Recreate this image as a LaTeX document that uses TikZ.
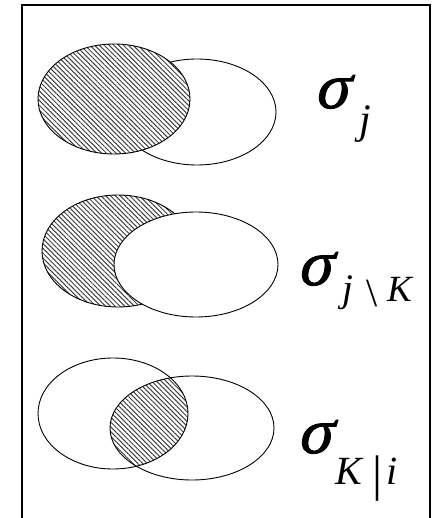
\documentclass[tikz,border=0pt]{standalone}
\usepackage{fontspec}
\setmainfont{Liberation Serif}
\newfontfamily\sigfont[FakeSlant=0.22,FakeBold=1.6]{Liberation Serif}
\usetikzlibrary{patterns.meta}
\begin{document}
\begin{tikzpicture}[x=1pt,y=-1pt,
  setline/.style={draw=black,line width=0.9pt},
  hatch/.style={pattern={Lines[angle=-45,distance=3.4pt,line width=1pt]},pattern color=black!75},
  lbl/.style={inner sep=0pt,anchor=base west},
  sig/.style={lbl,font=\fontsize{64}{64}\sigfont},
]
\useasboundingbox (0,0) rectangle (432,518);
\draw[line width=1.6pt] (22,5) rectangle (430,530);
% top
\fill[white] (197,112) ellipse [x radius=79,y radius=53];
\draw[setline] (197,112) ellipse [x radius=79,y radius=53];
\fill[white] (114,99) ellipse [x radius=76,y radius=55];
\fill[hatch] (114,99) ellipse [x radius=76,y radius=55];
\draw[setline] (114,99) ellipse [x radius=76,y radius=55];
\node[sig] (s1) at (314,108) {σ};
\node[lbl,font=\fontsize{42}{42}\selectfont\itshape] (j1) at (359,134) {j};
% middle
\fill[hatch] (118,251) ellipse [x radius=76,y radius=56];
\draw[setline] (118,251) ellipse [x radius=76,y radius=56];
\fill[white] (196,264.5) ellipse [x radius=82,y radius=52.5];
\draw[setline] (196,264.5) ellipse [x radius=82,y radius=52.5];
\node[sig] (s2) at (297,285) {σ};
\node[lbl,font=\fontsize{39}{39}\selectfont\itshape] (j2) at (342,301) {j};
\node[lbl,font=\fontsize{40}{40}\selectfont] (b2) at (366,306) {\textbackslash};
\node[lbl,font=\fontsize{37}{37}\selectfont\itshape] (k2) at (387,301) {K};
% bottom
\begin{scope}
\clip (113,413.5) ellipse [x radius=75,y radius=55.5];
\fill[hatch] (192,428) ellipse [x radius=82,y radius=52];
\end{scope}
\draw[setline] (113,413.5) ellipse [x radius=75,y radius=55.5];
\draw[setline] (192,428) ellipse [x radius=82,y radius=52];
\node[sig] (s3) at (297,453) {σ};
\node[lbl,font=\fontsize{40}{40}\selectfont\itshape] (k3) at (335,484) {K};
\node[lbl,font=\fontsize{50}{50}\selectfont] (v3) at (372,490) {|};
\node[lbl,font=\fontsize{40}{40}\selectfont\itshape] (i3) at (386,484) {i};
\end{tikzpicture}
\end{document}
